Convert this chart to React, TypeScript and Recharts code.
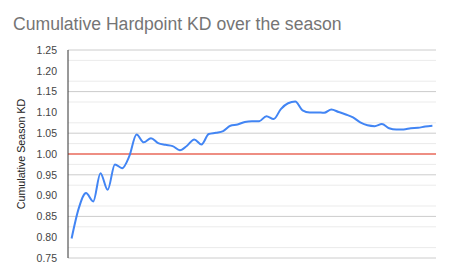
import React from 'react';
import { LineChart, Line, XAxis, YAxis, CartesianGrid, ReferenceLine } from 'recharts';

// cumulative KD after each hardpoint map
const kdValues = [
  0.797, 0.87, 0.906, 0.886, 0.954, 0.914, 0.975, 0.966, 0.995, 1.047,
  1.028, 1.038, 1.026, 1.022, 1.019, 1.009, 1.02, 1.035, 1.023, 1.048,
  1.051, 1.055, 1.068, 1.071, 1.077, 1.079, 1.079, 1.091, 1.084, 1.108,
  1.122, 1.126, 1.105, 1.1, 1.1, 1.099, 1.107, 1.101, 1.095, 1.088,
  1.076, 1.069, 1.067, 1.072, 1.062, 1.059, 1.059, 1.062, 1.063, 1.066,
  1.068,
];
const yTicks = [0.75, 0.8, 0.85, 0.9, 0.95, 1.0, 1.05, 1.1, 1.15, 1.2, 1.25];
const minorTicks = [0.775, 0.825, 0.875, 0.925, 0.975, 1.025, 1.075, 1.125, 1.175, 1.225];
const breakEven = 1.0;

const data = kdValues.map((kd, i) => ({ game: i + 1, kd }));

const FONT = '"Liberation Sans", Arial, sans-serif';

function AxisTitle() {
  return (
    <text
      x={21}
      y={154}
      transform="rotate(-90 21 154)"
      textAnchor="middle"
      dominantBaseline="central"
      fontFamily={FONT}
      fontSize={10.7}
      fill="#222"
    >
      Cumulative Season KD
    </text>
  );
}

export default function App() {
  return (
    <div style={{ position: 'absolute', left: 0, top: 0, width: 450, height: 278, background: '#fff' }}>
      <div
        style={{
          position: 'absolute',
          left: 13,
          top: 16,
          fontFamily: FONT,
          fontSize: 17.6,
          color: '#757575',
          whiteSpace: 'nowrap',
          lineHeight: 1,
        }}
      >
        Cumulative Hardpoint KD over the season
      </div>
      <LineChart width={450} height={278} data={data} margin={{ top: 50, right: 14, bottom: 20, left: 0 }}>
        <CartesianGrid horizontal vertical={false} stroke="#cccccc" />
        {minorTicks.map(t => (
          <ReferenceLine key={t} y={t} stroke="#ebebeb" />
        ))}
        <XAxis dataKey="game" hide padding={{ left: 3.6, right: 3.6 }} />
        <YAxis
          width={68}
          domain={[0.75, 1.25]}
          ticks={yTicks}
          tickFormatter={(v: number) => v.toFixed(2)}
          tickLine={false}
          axisLine={{ stroke: '#333' }}
          tickMargin={5}
          tick={{ fontFamily: FONT, fontSize: 10.5, fill: '#444' }}
          label={<AxisTitle />}
        />
        <ReferenceLine y={breakEven} stroke="#e8685a" strokeWidth={1.5} />
        <Line
          type="monotone"
          dataKey="kd"
          stroke="#4285f4"
          strokeWidth={2}
          dot={false}
          isAnimationActive={false}
        />
      </LineChart>
    </div>
  );
}
